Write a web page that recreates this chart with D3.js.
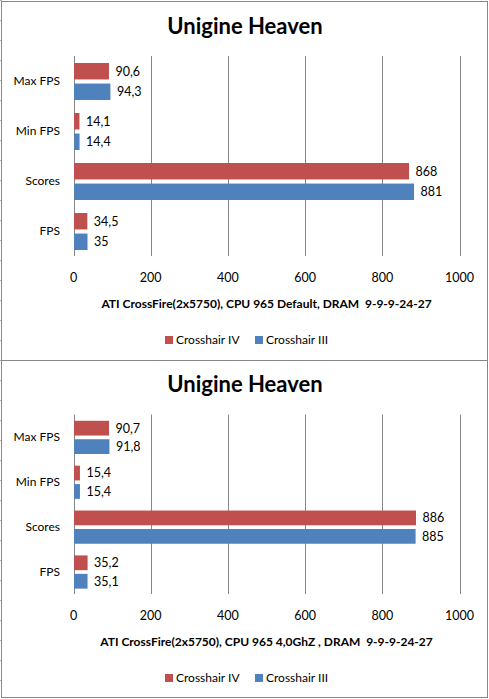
<!DOCTYPE html>
<html><head><meta charset="utf-8">
<script src="https://cdn.jsdelivr.net/npm/d3@7"></script>
<style>
html,body{margin:0;padding:0;background:#fff;}
svg{display:block;}
text{font-family:Lato,"Open Sans",sans-serif;}
</style></head>
<body>
<svg id="c" width="489" height="699"></svg>
<script>
const categories = ["Max FPS", "Min FPS", "Scores", "FPS"];
const seriesNames = ["Crosshair IV", "Crosshair III"];
const seriesColors = ["#C0504D", "#4F81BD"];
const tickValues = [0, 200, 400, 600, 800, 1000];
const chartTitle = "Unigine Heaven";

const chart1CrosshairIV = [90.6, 14.1, 868, 34.5];
const chart1CrosshairIII = [94.3, 14.4, 881, 35];
const chart1AxisTitle = "ATI CrossFire(2x5750), CPU 965 Default, DRAM  9-9-9-24-27";

const chart2CrosshairIV = [90.7, 15.4, 886, 35.2];
const chart2CrosshairIII = [91.8, 15.4, 885, 35.1];
const chart2AxisTitle = "ATI CrossFire(2x5750), CPU 965 4,0GhZ , DRAM  9-9-9-24-27";

const svg = d3.select("#c");
const gray = "#878787";

// sheet row marks on the far left
svg.append("g").selectAll("line").data(d3.range(0, 700, 20)).join("line")
  .attr("x1", 0).attr("x2", 2).attr("y1", d => d + 0.5).attr("y2", d => d + 0.5)
  .attr("stroke", "#b0b0b0");

// frame
svg.append("rect").attr("x", 1.5).attr("y", 1.5).attr("width", 486).attr("height", 696)
  .attr("fill", "none").attr("stroke", gray);
svg.append("line").attr("x1", 1.5).attr("x2", 487.5).attr("y1", 360.5).attr("y2", 360.5)
  .attr("stroke", gray);

const fmt = v => String(v).replace(".", ",");

function drawChart(top, bottom, ivVals, iiiVals, axisTitle) {
  const g = svg.append("g");
  const rows = categories.map((c, i) => ({cat: c, vals: [ivVals[i], iiiVals[i]]}));

  const x = d3.scaleLinear().domain([0, 1000]).range([73.5, 459.5]);
  const y = d3.scaleBand().domain(categories).range([top + 54.5, bottom - 104]).padding(0);
  const bw = y.bandwidth();
  const ys = d3.scaleBand().domain([0, 1]).range([bw * 0.14, bw * 0.88]).paddingInner(0.2).paddingOuter(0);

  g.append("text").attr("x", 245).attr("y", top + 32)
    .attr("text-anchor", "middle").attr("font-weight", "bold").attr("font-size", 22)
    .text(chartTitle);

  // gridlines
  g.append("g").selectAll("line").data(tickValues).join("line")
    .attr("x1", d => Math.round(x(d)) + 0.5).attr("x2", d => Math.round(x(d)) + 0.5)
    .attr("y1", y.range()[0]).attr("y2", y.range()[1])
    .attr("stroke", "#868686");

  // tick labels
  g.append("g").selectAll("text").data(tickValues).join("text")
    .attr("x", d => x(d)).attr("y", bottom - 82).attr("dy", "0.35em")
    .attr("text-anchor", "middle").attr("font-size", 12.5).text(d => d);

  // category labels
  g.append("g").selectAll("text").data(categories).join("text")
    .attr("x", 60).attr("y", d => y(d) + bw / 2).attr("dy", "0.35em")
    .attr("text-anchor", "end").attr("font-size", 12).text(d => d);

  const grp = g.append("g").selectAll("g").data(rows).join("g")
    .attr("transform", d => `translate(0,${y(d.cat)})`);
  grp.selectAll("rect").data(d => d.vals).join("rect")
    .attr("x", x(0) + 0.5).attr("y", (d, i) => ys(i))
    .attr("width", d => x(d) - x(0)).attr("height", ys.bandwidth())
    .attr("fill", (d, i) => seriesColors[i]);
  grp.selectAll("text").data(d => d.vals).join("text")
    .attr("x", d => x(d) + 7).attr("y", (d, i) => ys(i) + ys.bandwidth() / 2).attr("dy", "0.35em")
    .attr("font-size", 12.5).text(d => fmt(d));

  g.append("text").attr("x", 266.5).attr("y", bottom - 56).attr("dy", "0.35em")
    .attr("text-anchor", "middle").attr("font-weight", "bold").attr("font-size", 12)
    .attr("xml:space", "preserve").style("white-space", "pre")
    .text(axisTitle);

  // legend
  const lx = [165, 255];
  const lg = g.append("g").selectAll("g").data(seriesNames).join("g")
    .attr("transform", (d, i) => `translate(${lx[i]},${bottom - 20})`);
  lg.append("rect").attr("x", 0).attr("y", -4).attr("width", 8).attr("height", 8)
    .attr("fill", (d, i) => seriesColors[i]);
  lg.append("text").attr("x", 11).attr("y", 0).attr("dy", "0.35em")
    .attr("font-size", 12).text(d => d);
}

drawChart(1.5, 360, chart1CrosshairIV, chart1CrosshairIII, chart1AxisTitle);
drawChart(360, 698, chart2CrosshairIV, chart2CrosshairIII, chart2AxisTitle);
</script>
</body></html>
